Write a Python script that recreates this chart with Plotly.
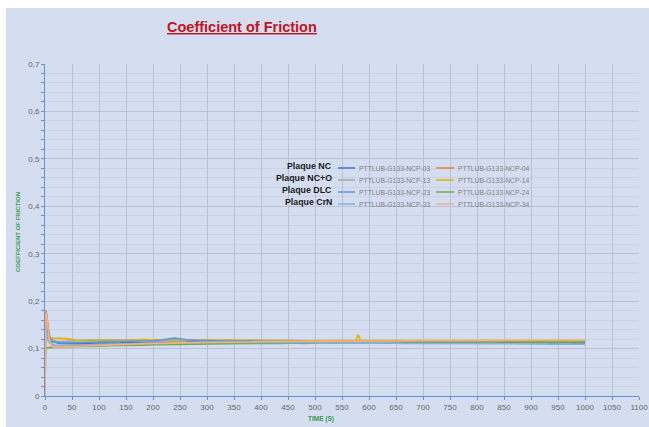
import plotly.graph_objects as go

# ---------------- data ----------------
TIME = [0, 1, 2, 3, 4, 6, 8, 10, 14, 18, 24, 30,
        40, 60, 80, 100, 120, 140, 160, 180, 200, 220,
        240, 260, 280, 300, 320, 340, 360, 380, 400, 420,
        440, 460, 480, 500, 520, 540, 560, 580, 600, 620,
        640, 660, 680, 700, 720, 740, 760, 780, 800, 820,
        840, 860, 880, 900, 920, 940, 960, 980, 1000]

TIME_14 = [0, 1, 2, 3, 4, 6, 8, 10, 14, 18, 24, 30,
           40, 60, 80, 100, 120, 140, 160, 180, 200, 220,
           240, 260, 280, 300, 320, 340, 360, 380, 400, 420,
           440, 460, 480, 500, 520, 540, 560, 576, 579, 581, 584, 600, 620,
           640, 660, 680, 700, 720, 740, 760, 780, 800, 820,
           840, 860, 880, 900, 920, 940, 960, 980, 1000]

NCP_03 = [0.120, 0.150, 0.160, 0.157, 0.150, 0.138, 0.128, 0.122, 0.117, 0.114, 0.112, 0.111,
          0.111, 0.110, 0.111, 0.111, 0.112, 0.112, 0.113, 0.112, 0.113, 0.113,
          0.114, 0.114, 0.115, 0.115, 0.114, 0.115, 0.114, 0.114, 0.115, 0.114,
          0.114, 0.115, 0.114, 0.114, 0.113, 0.114, 0.114, 0.113, 0.114, 0.113,
          0.112, 0.113, 0.113, 0.112, 0.112, 0.113, 0.112, 0.112, 0.113, 0.112,
          0.112, 0.113, 0.112, 0.112, 0.112, 0.113, 0.112, 0.112, 0.113]

NCP_04 = [0.000, 0.140, 0.180, 0.172, 0.160, 0.140, 0.125, 0.115, 0.108, 0.106, 0.105, 0.105,
          0.106, 0.107, 0.107, 0.108, 0.108, 0.109, 0.109, 0.110, 0.110, 0.111,
          0.111, 0.112, 0.112, 0.112, 0.113, 0.113, 0.113, 0.113, 0.114, 0.114,
          0.114, 0.114, 0.114, 0.115, 0.115, 0.115, 0.115, 0.115, 0.115, 0.115,
          0.115, 0.115, 0.116, 0.115, 0.116, 0.116, 0.115, 0.116, 0.116, 0.116,
          0.116, 0.116, 0.116, 0.117, 0.116, 0.116, 0.117, 0.116, 0.117]

NCP_13 = [0.100, 0.130, 0.145, 0.142, 0.136, 0.128, 0.122, 0.119, 0.117, 0.116, 0.115, 0.115,
          0.116, 0.117, 0.118, 0.118, 0.118, 0.119, 0.118, 0.119, 0.119, 0.119,
          0.119, 0.118, 0.118, 0.118, 0.117, 0.118, 0.117, 0.117, 0.117, 0.117,
          0.117, 0.116, 0.117, 0.116, 0.116, 0.116, 0.117, 0.117, 0.116, 0.116,
          0.116, 0.116, 0.116, 0.115, 0.116, 0.116, 0.115, 0.116, 0.115, 0.116,
          0.115, 0.116, 0.115, 0.116, 0.115, 0.115, 0.116, 0.115, 0.116]

NCP_14 = [0.110, 0.140, 0.150, 0.145, 0.138, 0.130, 0.125, 0.123, 0.122, 0.122, 0.121, 0.121,
          0.121, 0.117, 0.117, 0.118, 0.118, 0.118, 0.118, 0.119, 0.118, 0.118,
          0.118, 0.118, 0.118, 0.117, 0.118, 0.117, 0.117, 0.117, 0.117, 0.117,
          0.117, 0.117, 0.116, 0.117, 0.117, 0.117, 0.117, 0.117, 0.128, 0.127, 0.117, 0.117, 0.117,
          0.117, 0.117, 0.116, 0.117, 0.117, 0.116, 0.117, 0.117, 0.116, 0.117,
          0.117, 0.116, 0.117, 0.117, 0.116, 0.117, 0.117, 0.116, 0.117]

NCP_23 = [0.110, 0.140, 0.150, 0.146, 0.140, 0.130, 0.123, 0.118, 0.114, 0.113, 0.112, 0.112,
          0.112, 0.113, 0.114, 0.114, 0.115, 0.115, 0.116, 0.116, 0.116, 0.119,
          0.122, 0.119, 0.117, 0.117, 0.116, 0.116, 0.116, 0.116, 0.115, 0.115,
          0.115, 0.115, 0.115, 0.114, 0.114, 0.114, 0.114, 0.114, 0.114, 0.113,
          0.113, 0.113, 0.112, 0.112, 0.112, 0.112, 0.112, 0.112, 0.112, 0.111,
          0.112, 0.111, 0.111, 0.111, 0.111, 0.111, 0.111, 0.110, 0.110]

NCP_24 = [0.080, 0.095, 0.101, 0.102, 0.102, 0.102, 0.103, 0.103, 0.103, 0.103, 0.103, 0.103,
          0.104, 0.104, 0.105, 0.105, 0.106, 0.106, 0.107, 0.107, 0.108, 0.108,
          0.108, 0.109, 0.109, 0.110, 0.110, 0.110, 0.110, 0.111, 0.111, 0.111,
          0.111, 0.112, 0.111, 0.112, 0.112, 0.112, 0.112, 0.112, 0.113, 0.112,
          0.112, 0.113, 0.113, 0.112, 0.113, 0.113, 0.113, 0.113, 0.113, 0.113,
          0.113, 0.114, 0.113, 0.113, 0.114, 0.113, 0.114, 0.113, 0.114]

NCP_33 = [0.100, 0.125, 0.135, 0.130, 0.124, 0.116, 0.112, 0.110, 0.108, 0.107, 0.107, 0.107,
          0.107, 0.108, 0.108, 0.109, 0.109, 0.110, 0.110, 0.111, 0.111, 0.111,
          0.112, 0.112, 0.112, 0.113, 0.113, 0.113, 0.113, 0.113, 0.113, 0.113,
          0.113, 0.113, 0.113, 0.112, 0.113, 0.112, 0.113, 0.112, 0.112, 0.112,
          0.112, 0.111, 0.111, 0.111, 0.111, 0.111, 0.111, 0.110, 0.111, 0.110,
          0.110, 0.110, 0.110, 0.110, 0.110, 0.109, 0.110, 0.109, 0.109]

NCP_34 = [0.000, 0.150, 0.175, 0.168, 0.155, 0.135, 0.120, 0.110, 0.104, 0.103, 0.103, 0.103,
          0.104, 0.105, 0.106, 0.107, 0.108, 0.109, 0.110, 0.110, 0.111, 0.111,
          0.112, 0.112, 0.113, 0.113, 0.113, 0.114, 0.114, 0.114, 0.115, 0.115,
          0.115, 0.115, 0.115, 0.116, 0.116, 0.116, 0.116, 0.116, 0.116, 0.116,
          0.116, 0.116, 0.117, 0.117, 0.117, 0.117, 0.117, 0.117, 0.117, 0.118,
          0.117, 0.118, 0.118, 0.118, 0.118, 0.118, 0.118, 0.118, 0.118]

SERIES_NAMES = ["PTTLUB-G133-NCP-03", "PTTLUB-G133-NCP-04",
                "PTTLUB-G133-NCP-13", "PTTLUB-G133-NCP-14",
                "PTTLUB-G133-NCP-23", "PTTLUB-G133-NCP-24",
                "PTTLUB-G133-NCP-33", "PTTLUB-G133-NCP-34"]
GROUP_LABELS = ["Plaque NC", "Plaque NC+O", "Plaque DLC", "Plaque CrN"]
X_TICKS = [0, 50, 100, 150, 200, 250, 300, 350, 400, 450, 500, 550,
           600, 650, 700, 750, 800, 850, 900, 950, 1000, 1050, 1100]

# ---------------- styling ----------------
COLORS = ["#4472C4", "#ED7D31", "#A5A5A5", "#E2B000",
          "#5B9BD5", "#70AD47", "#8FAADC", "#F4B183"]
W, H = 649, 427
ML, MR, MT, MB = 45, 10, 64, 31
PW, PH = W - ML - MR, H - MT - MB


def px(xp):
    return (xp - ML) / PW


def py(yp):
    return (H - MB - yp) / PH


series = [(TIME, NCP_03), (TIME, NCP_04), (TIME, NCP_13), (TIME_14, NCP_14),
          (TIME, NCP_23), (TIME, NCP_24), (TIME, NCP_33), (TIME, NCP_34)]

fig = go.Figure()
for (t, v), name, col in zip(series, SERIES_NAMES, COLORS):
    fig.add_trace(go.Scatter(x=t, y=v, mode="lines", name=name,
                             line=dict(color=col, width=1.6),
                             showlegend=False))

shapes = [dict(type="rect", xref="paper", yref="paper", layer="below",
               x0=px(6), x1=px(W), y0=py(H), y1=py(8),
               fillcolor="#D5DEF0", line=dict(width=0))]
annotations = []

# title
annotations.append(dict(text="<b><u>Coefficient of Friction</u></b>",
                        xref="paper", yref="paper", x=px(242), y=py(27),
                        xanchor="center", yanchor="middle", showarrow=False,
                        font=dict(family="Liberation Sans", size=14.5, color="#C0141E")))
# axis titles
annotations.append(dict(text="<b>COEFFICIENT OF FRICTION</b>", textangle=-90,
                        xref="paper", yref="paper", x=px(18), y=py(232),
                        xanchor="center", yanchor="middle", showarrow=False,
                        font=dict(family="Liberation Sans", size=6, color="#3A9A4E")))
annotations.append(dict(text="<b>TIME (S)</b>",
                        xref="paper", yref="paper", x=px(321), y=py(419),
                        xanchor="center", yanchor="middle", showarrow=False,
                        font=dict(family="Liberation Sans", size=6.5, color="#3A9A4E")))

# custom legend
row_y0, row_dy = 168, 12
for i, g in enumerate(GROUP_LABELS):
    yy = row_y0 + i * row_dy
    annotations.append(dict(text="<b>" + g + "</b>", xref="paper", yref="paper",
                            x=px(334), y=py(yy - 2), xanchor="right", yanchor="middle",
                            showarrow=False,
                            font=dict(family="Liberation Sans", size=8.8, color="#1A1A1A")))
    for j, (lx0, lx1, tx) in enumerate([(338, 355, 357), (436, 454, 456)]):
        k = 2 * i + j
        shapes.append(dict(type="line", xref="paper", yref="paper",
                           x0=px(lx0), x1=px(lx1), y0=py(yy), y1=py(yy),
                           line=dict(color=COLORS[k], width=1.5)))
        annotations.append(dict(text=SERIES_NAMES[k], xref="paper", yref="paper",
                                x=px(tx), y=py(yy), xanchor="left", yanchor="middle",
                                showarrow=False,
                                font=dict(family="Liberation Sans", size=6.8, color="#808080")))

fig.update_layout(
    width=W, height=H,
    margin=dict(l=ML, r=MR, t=MT, b=MB, autoexpand=False),
    paper_bgcolor="white", plot_bgcolor="rgba(0,0,0,0)",
    separators=", ",
    shapes=shapes, annotations=annotations,
    font=dict(family="Liberation Sans", size=8, color="#666666"),
    xaxis=dict(range=[0, 1100], tickvals=X_TICKS, ticktext=[str(v) for v in X_TICKS],
               automargin=False,
               showgrid=True, gridcolor="#B8C2D6", gridwidth=1,
               showline=True, linecolor="#6A8FD8", linewidth=1,
               ticks="outside", ticklen=3, tickcolor="#6A8FD8",
               zeroline=False, tickfont=dict(size=8, color="#666666")),
    yaxis=dict(range=[0, 0.7], dtick=0.1, tick0=0, automargin=False,
               showgrid=True, gridcolor="#B8C2D6", gridwidth=1,
               showline=True, linecolor="#6A8FD8", linewidth=1,
               ticks="outside", ticklen=3, tickcolor="#6A8FD8",
               zeroline=False, tickfont=dict(size=8, color="#666666"),
               minor=dict(dtick=0.02, showgrid=True, gridcolor="#C9D2E6",
                          ticks="outside", ticklen=3, tickcolor="#6A8FD8")),
)

fig.write_html("out.html")
